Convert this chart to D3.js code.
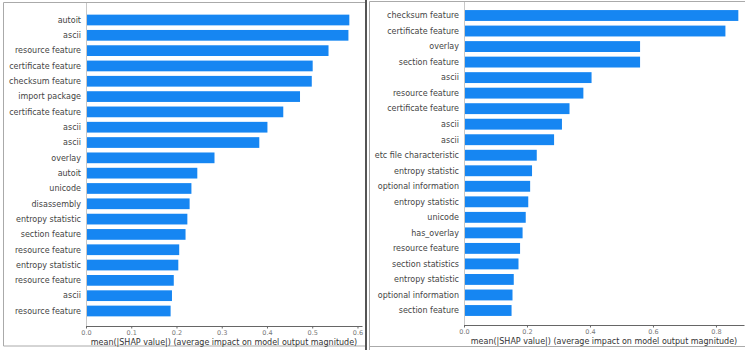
<!DOCTYPE html>
<html>
<head>
<meta charset="utf-8">
<script src="https://cdn.jsdelivr.net/npm/d3@7"></script>
<style>
  html, body { margin: 0; padding: 0; background: #fff; }
  svg { display: block; font-family: "DejaVu Sans", sans-serif; }
</style>
</head>
<body>
<svg id="chart" width="745" height="350"></svg>
<script>
const leftLabels = ["autoit", "ascii", "resource feature", "certificate feature", "checksum feature",
  "import package", "certificate feature", "ascii", "ascii", "overlay", "autoit", "unicode",
  "disassembly", "entropy statistic", "section feature", "resource feature", "entropy statistic",
  "resource feature", "ascii", "resource feature"];
const leftValues = [0.582, 0.580, 0.536, 0.501, 0.499, 0.473, 0.436, 0.401, 0.383, 0.284, 0.246,
  0.233, 0.229, 0.224, 0.220, 0.206, 0.204, 0.194, 0.190, 0.187];
const leftTicks = [0.0, 0.1, 0.2, 0.3, 0.4, 0.5, 0.6];

const rightLabels = ["checksum feature", "certificate feature", "overlay", "section feature", "ascii",
  "resource feature", "certificate feature", "ascii", "ascii", "etc file characteristic",
  "entropy statistic", "optional information", "entropy statistic", "unicode", "has_overlay",
  "resource feature", "section statistics", "entropy statistic", "optional information", "section feature"];
const rightValues = [0.871, 0.830, 0.559, 0.559, 0.405, 0.379, 0.335, 0.311, 0.286, 0.231, 0.216,
  0.210, 0.204, 0.196, 0.186, 0.178, 0.173, 0.158, 0.154, 0.151];
const rightTicks = [0.0, 0.2, 0.4, 0.6, 0.8];

const xLabel = "mean(|SHAP value|) (average impact on model output magnitude)";
const barColor = "#1686F2";

const svg = d3.select("#chart");

// panel frames
svg.append("path").attr("d", "M365,2.5 H3.5 V346 H365")
  .attr("fill", "none").attr("stroke", "#aaa").attr("stroke-width", 1);
svg.append("line").attr("x1", 366).attr("x2", 366).attr("y1", 0).attr("y2", 350)
  .attr("stroke", "#555").attr("stroke-width", 2);
svg.append("path").attr("d", "M369.5,350 V1.5 H745 M369.5,346.5 H745")
  .attr("fill", "none").attr("stroke", "#aaa").attr("stroke-width", 1);

function panel(cfg) {
  const g = svg.append("g");
  const x = d3.scaleLinear().domain([0, cfg.xmax]).range([cfg.x0, cfg.x1]);
  const y = d3.scalePoint().domain(d3.range(cfg.labels.length)).range([cfg.yFirst, cfg.yLast]);
  const bh = y.step() * 0.7;

  // vertical zero line
  g.append("line").attr("x1", x(0) + 0.5).attr("x2", x(0) + 0.5)
    .attr("y1", cfg.yTop).attr("y2", cfg.axisY)
    .attr("stroke", "#c8c8c8").attr("stroke-width", 1);

  g.selectAll("rect.bar").data(cfg.values).join("rect")
    .attr("class", "bar")
    .attr("x", x(0) + 1)
    .attr("y", (d, i) => y(i) - bh / 2)
    .attr("width", d => x(d) - x(0) - 1)
    .attr("height", bh)
    .attr("fill", barColor);

  g.selectAll("text.lab").data(cfg.labels).join("text")
    .attr("class", "lab")
    .attr("x", cfg.labelX)
    .attr("y", (d, i) => y(i))
    .attr("dy", "0.35em")
    .attr("text-anchor", "end")
    .attr("font-size", 8)
    .attr("fill", "#444")
    .text(d => d);

  const axis = d3.axisBottom(x).tickValues(cfg.ticks).tickFormat(d3.format(".1f"))
    .tickSize(2.5).tickSizeOuter(0);
  const ag = g.append("g").attr("transform", `translate(0,${cfg.axisY})`).call(axis);
  ag.select(".domain").attr("stroke", "#666");
  ag.selectAll(".tick line").attr("stroke", "#666");
  ag.selectAll(".tick text").attr("font-size", 6.5).attr("fill", "#777")
    .attr("font-family", "DejaVu Sans, sans-serif").attr("y", 4).attr("dy", "0.71em");

  g.append("text")
    .attr("x", (cfg.x0 + cfg.x1) / 2)
    .attr("y", cfg.axisY + 19)
    .attr("text-anchor", "middle")
    .attr("font-size", 8)
    .attr("fill", "#333")
    .text(xLabel);
}

panel({ labels: leftLabels, values: leftValues, ticks: leftTicks, xmax: 0.61,
  x0: 86, x1: 362, yFirst: 20, yLast: 311, yTop: 3, axisY: 326, labelX: 81 });
panel({ labels: rightLabels, values: rightValues, ticks: rightTicks, xmax: 0.889,
  x0: 464, x1: 744, yFirst: 15.5, yLast: 310.5, yTop: 2, axisY: 325, labelX: 459 });
</script>
</body>
</html>
